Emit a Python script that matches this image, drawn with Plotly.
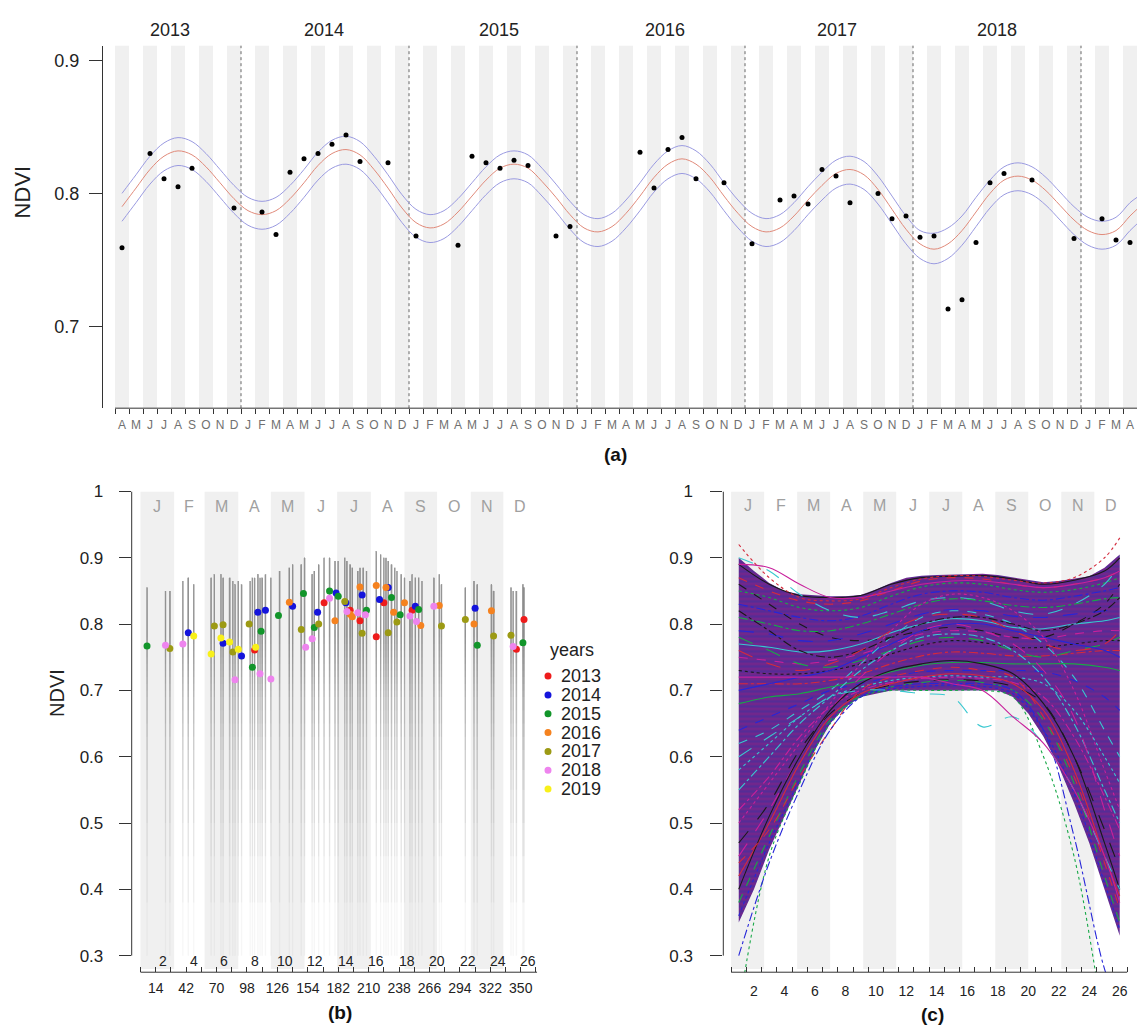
import numpy as np
import plotly.graph_objects as go

W, H = 1137, 1030

# ---------------- panel (a): NDVI time series, month index counted from 1 Apr 2013
month_letters_a = list("AMJJASOND") + list("JFMAMJJASOND") * 5 + list("JFMA")
year_names = ["2013", "2014", "2015", "2016", "2017", "2018"]
year_label_t = [3.9, 14.9, 27.4, 39.3, 51.6, 63.0]
year_breaks = [9, 21, 33, 45, 57, 69]

fit_t = list(np.arange(0.5, 73, 1.0)) + [73.0]
fit_mid = [0.790, 0.804, 0.818, 0.828, 0.832, 0.829, 0.820, 0.808, 0.796, 0.787, 0.784, 0.787,
           0.796, 0.808, 0.821, 0.830, 0.833, 0.829, 0.818, 0.804, 0.789, 0.778, 0.774, 0.777,
           0.786, 0.798, 0.810, 0.819, 0.822, 0.819, 0.809, 0.797, 0.784, 0.774, 0.771, 0.775,
           0.785, 0.798, 0.812, 0.822, 0.826, 0.822, 0.812, 0.798, 0.785, 0.775, 0.771, 0.774,
           0.783, 0.795, 0.806, 0.815, 0.818, 0.814, 0.803, 0.788, 0.773, 0.762, 0.758, 0.762,
           0.772, 0.786, 0.800, 0.810, 0.813, 0.810, 0.802, 0.791, 0.780, 0.772, 0.769, 0.772,
           0.783, 0.788]
fit_hi = [0.800, 0.814, 0.828, 0.838, 0.842, 0.839, 0.830, 0.818, 0.806, 0.797, 0.794, 0.797,
          0.806, 0.818, 0.831, 0.840, 0.843, 0.839, 0.828, 0.814, 0.799, 0.788, 0.784, 0.787,
          0.796, 0.808, 0.820, 0.829, 0.832, 0.829, 0.819, 0.807, 0.794, 0.784, 0.781, 0.785,
          0.795, 0.808, 0.822, 0.832, 0.836, 0.832, 0.822, 0.808, 0.795, 0.785, 0.781, 0.784,
          0.793, 0.805, 0.816, 0.825, 0.828, 0.824, 0.813, 0.798, 0.783, 0.772, 0.770, 0.774,
          0.783, 0.797, 0.810, 0.820, 0.823, 0.820, 0.812, 0.801, 0.790, 0.782, 0.779, 0.782,
          0.793, 0.797]
fit_lo = [0.779, 0.793, 0.807, 0.817, 0.821, 0.818, 0.809, 0.797, 0.785, 0.776, 0.773, 0.776,
          0.785, 0.797, 0.810, 0.819, 0.822, 0.818, 0.807, 0.793, 0.778, 0.767, 0.763, 0.766,
          0.775, 0.787, 0.799, 0.808, 0.811, 0.808, 0.798, 0.786, 0.773, 0.763, 0.760, 0.764,
          0.774, 0.787, 0.801, 0.811, 0.815, 0.811, 0.801, 0.787, 0.774, 0.764, 0.760, 0.763,
          0.772, 0.784, 0.795, 0.804, 0.807, 0.803, 0.792, 0.777, 0.762, 0.751, 0.747, 0.751,
          0.761, 0.775, 0.789, 0.799, 0.802, 0.799, 0.791, 0.780, 0.769, 0.761, 0.758, 0.761,
          0.772, 0.777]

obs_t = [0.5, 2.5, 3.5, 4.5, 5.5, 8.5, 10.5, 11.5, 12.5, 13.5, 14.5, 15.5, 16.5, 17.5, 19.5,
         21.5, 24.5, 25.5, 26.5, 27.5, 28.5, 29.5, 31.5, 32.5, 37.5, 38.5, 39.5, 40.5, 41.5,
         43.5, 45.5, 47.5, 48.5, 49.5, 50.5, 51.5, 52.5, 54.5, 55.5, 56.5, 57.5, 58.5, 59.5,
         60.5, 61.5, 62.5, 63.5, 65.5, 68.5, 70.5, 71.5, 72.5]
obs_ndvi = [0.759, 0.830, 0.811, 0.805, 0.819, 0.789, 0.786, 0.769, 0.816, 0.826, 0.830, 0.837,
            0.844, 0.824, 0.823, 0.768, 0.761, 0.828, 0.823, 0.819, 0.825, 0.821, 0.768, 0.775,
            0.831, 0.804, 0.833, 0.842, 0.811, 0.808, 0.762, 0.795, 0.798, 0.792, 0.818, 0.813,
            0.793, 0.800, 0.781, 0.783, 0.767, 0.768, 0.713, 0.720, 0.763, 0.808, 0.815, 0.810,
            0.766, 0.781, 0.765, 0.763]

# ---------------- panel (b): observations by day of year
years = ["2013", "2014", "2015", "2016", "2017", "2018", "2019"]
year_colors = ["#ee1c1c", "#1414dc", "#12952a", "#f5821f", "#9c9a14", "#ee84ee", "#f8f01a"]
doy_2013 = [105, 169, 193, 202, 217, 224, 250, 346, 353]
ndvi_2013 = [0.761, 0.832, 0.821, 0.805, 0.781, 0.832, 0.821, 0.762, 0.807]
doy_2014 = [44, 76, 93, 108, 115, 140, 163, 180, 189, 204, 220, 228, 253, 308]
ndvi_2014 = [0.787, 0.771, 0.752, 0.818, 0.821, 0.827, 0.818, 0.847, 0.832, 0.844, 0.837, 0.855, 0.827, 0.824]
doy_2015 = [6, 103, 111, 127, 150, 160, 174, 182, 208, 231, 239, 256, 310, 352]
ndvi_2015 = [0.767, 0.735, 0.789, 0.813, 0.846, 0.795, 0.850, 0.842, 0.821, 0.840, 0.814, 0.822, 0.768, 0.772]
doy_2016 = [137, 179, 193, 195, 202, 217, 226, 233, 243, 258, 275, 307, 323]
ndvi_2016 = [0.833, 0.805, 0.815, 0.811, 0.856, 0.858, 0.855, 0.818, 0.832, 0.798, 0.828, 0.800, 0.820]
doy_2017 = [27, 68, 76, 85, 100, 148, 164, 188, 204, 228, 236, 277, 299, 325, 341]
ndvi_2017 = [0.763, 0.797, 0.799, 0.758, 0.800, 0.792, 0.800, 0.834, 0.786, 0.787, 0.803, 0.797, 0.807, 0.782, 0.783]
doy_2018 = [23, 39, 87, 110, 120, 152, 158, 174, 190, 200, 207, 248, 254, 270, 343]
ndvi_2018 = [0.768, 0.770, 0.716, 0.725, 0.717, 0.765, 0.778, 0.839, 0.819, 0.817, 0.814, 0.812, 0.804, 0.827, 0.766]
doy_2019 = [49, 65, 74, 82, 90, 106]
ndvi_2019 = [0.782, 0.755, 0.779, 0.773, 0.762, 0.765]

# grey streaks = spread of all pixels on each acquisition date
streak_doy = [6, 23, 27, 39, 44, 49, 65, 68, 74, 76, 82, 85, 87, 90, 93, 101, 103, 105, 108, 110,
              112, 115, 120, 128, 137, 140, 148, 151, 158, 160, 164, 169, 174, 179, 182, 188, 190,
              193, 195, 200, 202, 205, 208, 217, 221, 224, 226, 228, 231, 234, 236, 240, 243, 248,
              250, 253, 256, 259, 270, 275, 277, 299, 307, 310, 323, 325, 341, 343, 346, 352, 353]
streak_top = [0.855, 0.850, 0.850, 0.865, 0.870, 0.860, 0.870, 0.875, 0.875, 0.870, 0.870, 0.865,
              0.860, 0.865, 0.860, 0.865, 0.870, 0.870, 0.875, 0.870, 0.870, 0.875, 0.870, 0.880,
              0.885, 0.890, 0.890, 0.900, 0.875, 0.880, 0.890, 0.900, 0.900, 0.895, 0.895, 0.900,
              0.895, 0.890, 0.885, 0.880, 0.885, 0.885, 0.880, 0.910, 0.905, 0.900, 0.900, 0.895,
              0.890, 0.885, 0.880, 0.875, 0.870, 0.865, 0.875, 0.870, 0.870, 0.865, 0.870, 0.875,
              0.860, 0.855, 0.865, 0.860, 0.860, 0.850, 0.855, 0.850, 0.850, 0.860, 0.855]
# lower ends of the stacked translucent streak layers (fading towards low NDVI)
streak_lows = [0.30, 0.38, 0.45, 0.50, 0.55, 0.58, 0.61, 0.63, 0.65, 0.67, 0.69, 0.70, 0.71, 0.72,
               0.73, 0.74, 0.75, 0.76, 0.77, 0.78]

month_letters = list("JFMAMJJASOND")
month_start_doy = [0, 31, 59, 90, 120, 151, 181, 212, 243, 273, 304, 334, 365]

# ---------------- panel (c): per-pixel profiles over 26 two-week periods
env_u = list(range(1, 27))
env_upper = [0.900, 0.880, 0.862, 0.850, 0.845, 0.843, 0.842, 0.842, 0.844, 0.852, 0.862, 0.870, 0.873,
             0.874, 0.875, 0.876, 0.876, 0.874, 0.870, 0.866, 0.863, 0.865, 0.868, 0.872, 0.885, 0.905]
env_lower = [0.350, 0.400, 0.460, 0.510, 0.560, 0.610, 0.650, 0.675, 0.690, 0.695, 0.700, 0.700, 0.700,
             0.700, 0.700, 0.700, 0.700, 0.700, 0.690, 0.665, 0.630, 0.585, 0.530, 0.470, 0.400, 0.330]

prof_u = [1, 3, 5, 7, 9, 11, 13, 15, 17, 19, 21, 23, 25, 26]
prof_high = [
    [0.89, 0.86, 0.843, 0.84, 0.843, 0.86, 0.87, 0.872, 0.873, 0.868, 0.86, 0.866, 0.88, 0.90],
    [0.87, 0.85, 0.835, 0.83, 0.835, 0.85, 0.865, 0.87, 0.868, 0.86, 0.855, 0.86, 0.87, 0.88],
    [0.85, 0.84, 0.825, 0.82, 0.825, 0.842, 0.856, 0.862, 0.86, 0.852, 0.848, 0.852, 0.862, 0.87],
    [0.83, 0.82, 0.81, 0.805, 0.812, 0.83, 0.845, 0.85, 0.848, 0.84, 0.836, 0.842, 0.85, 0.855],
    [0.90, 0.88, 0.845, 0.82, 0.81, 0.82, 0.835, 0.84, 0.835, 0.82, 0.815, 0.83, 0.86, 0.89],
    [0.89, 0.885, 0.86, 0.84, 0.84, 0.85, 0.86, 0.865, 0.865, 0.86, 0.855, 0.86, 0.87, 0.88],
    [0.86, 0.83, 0.80, 0.78, 0.775, 0.78, 0.79, 0.795, 0.79, 0.78, 0.78, 0.80, 0.83, 0.86],
    [0.92, 0.87, 0.84, 0.835, 0.838, 0.855, 0.868, 0.873, 0.872, 0.866, 0.862, 0.87, 0.90, 0.93],
]
prof_mid = [
    [0.81, 0.80, 0.79, 0.79, 0.80, 0.815, 0.83, 0.838, 0.835, 0.828, 0.825, 0.83, 0.838, 0.84],
    [0.79, 0.785, 0.775, 0.775, 0.785, 0.80, 0.815, 0.822, 0.82, 0.812, 0.81, 0.815, 0.82, 0.825],
    [0.77, 0.765, 0.758, 0.76, 0.77, 0.787, 0.80, 0.808, 0.805, 0.795, 0.793, 0.80, 0.805, 0.81],
    [0.75, 0.745, 0.74, 0.745, 0.755, 0.77, 0.785, 0.79, 0.788, 0.78, 0.778, 0.785, 0.79, 0.79],
    [0.73, 0.725, 0.725, 0.73, 0.74, 0.755, 0.768, 0.775, 0.772, 0.765, 0.765, 0.77, 0.775, 0.775],
    [0.71, 0.71, 0.71, 0.715, 0.725, 0.74, 0.752, 0.758, 0.756, 0.752, 0.752, 0.756, 0.76, 0.76],
    [0.78, 0.76, 0.74, 0.735, 0.745, 0.76, 0.775, 0.78, 0.775, 0.76, 0.75, 0.76, 0.77, 0.78],
    [0.70, 0.71, 0.72, 0.73, 0.75, 0.77, 0.79, 0.80, 0.80, 0.79, 0.78, 0.77, 0.76, 0.75],
    [0.62, 0.64, 0.67, 0.70, 0.74, 0.78, 0.81, 0.82, 0.815, 0.80, 0.77, 0.72, 0.64, 0.60],
    [0.50, 0.56, 0.62, 0.68, 0.74, 0.79, 0.83, 0.845, 0.84, 0.82, 0.78, 0.70, 0.58, 0.52],
    [0.82, 0.79, 0.76, 0.75, 0.76, 0.78, 0.80, 0.81, 0.81, 0.80, 0.79, 0.80, 0.82, 0.84],
    [0.76, 0.74, 0.73, 0.74, 0.76, 0.79, 0.81, 0.815, 0.81, 0.79, 0.77, 0.76, 0.77, 0.79],
]
prof_low = [
    [0.68, 0.69, 0.695, 0.705, 0.715, 0.728, 0.738, 0.742, 0.742, 0.74, 0.74, 0.74, 0.735, 0.73],
    [0.64, 0.66, 0.68, 0.70, 0.71, 0.72, 0.728, 0.73, 0.73, 0.73, 0.728, 0.715, 0.69, 0.67],
    [0.58, 0.62, 0.66, 0.69, 0.705, 0.715, 0.72, 0.722, 0.72, 0.72, 0.71, 0.67, 0.60, 0.56],
    [0.52, 0.57, 0.63, 0.675, 0.70, 0.712, 0.718, 0.72, 0.718, 0.712, 0.69, 0.63, 0.54, 0.49],
    [0.47, 0.53, 0.61, 0.665, 0.695, 0.708, 0.714, 0.716, 0.714, 0.706, 0.68, 0.60, 0.49, 0.43],
    [0.42, 0.50, 0.59, 0.66, 0.695, 0.71, 0.72, 0.725, 0.722, 0.71, 0.67, 0.58, 0.45, 0.39],
    [0.38, 0.48, 0.575, 0.655, 0.692, 0.705, 0.712, 0.715, 0.712, 0.70, 0.655, 0.56, 0.42, 0.35],
    [0.36, 0.47, 0.565, 0.652, 0.69, 0.702, 0.706, 0.708, 0.706, 0.695, 0.64, 0.545, 0.41, 0.34],
    [0.55, 0.60, 0.65, 0.69, 0.73, 0.76, 0.78, 0.785, 0.78, 0.76, 0.72, 0.65, 0.55, 0.50],
    [0.45, 0.52, 0.60, 0.67, 0.72, 0.76, 0.79, 0.80, 0.79, 0.77, 0.73, 0.66, 0.52, 0.45],
    [0.40, 0.51, 0.60, 0.67, 0.71, 0.73, 0.74, 0.745, 0.74, 0.725, 0.68, 0.60, 0.47, 0.40],
    [0.44, 0.49, 0.57, 0.64, 0.70, 0.72, 0.73, 0.735, 0.73, 0.72, 0.66, 0.57, 0.44, 0.37],
]
prof_odd = [
    [0.22, 0.45, 0.56, 0.65, 0.69, 0.70, 0.70, 0.70, 0.70, 0.69, 0.60, 0.45, 0.20, 0.10],
    [0.30, 0.44, 0.55, 0.64, 0.69, 0.705, 0.71, 0.71, 0.71, 0.70, 0.64, 0.48, 0.28, 0.22],
    [0.60, 0.63, 0.66, 0.69, 0.70, 0.70, 0.695, 0.69, 0.645, 0.66, 0.62, 0.55, 0.45, 0.40],
    [0.72, 0.72, 0.72, 0.72, 0.72, 0.72, 0.72, 0.71, 0.70, 0.66, 0.62, 0.55, 0.45, 0.38],
]
r_palette = ["#1a1a1a", "#d42a3c", "#18a848", "#2626d8", "#38c8d0", "#c8209c"]
r_dashes = ["solid", "dash", "dot", "dashdot", "longdash"]

fig = go.Figure()

# (a) fitted model with confidence band, then observations
for ys, col in [(fit_hi, "#9a9ae0"), (fit_lo, "#9a9ae0"), (fit_mid, "#e08a7a")]:
    fig.add_trace(go.Scatter(x=fit_t, y=ys, mode="lines", line=dict(color=col, width=1, shape="spline"),
                             xaxis="x", yaxis="y", hoverinfo="skip"))
fig.add_trace(go.Scatter(x=obs_t, y=obs_ndvi, mode="markers", marker=dict(color="black", size=5),
                         xaxis="x", yaxis="y"))

# (b) grey streaks, many faint stacked layers -> smooth fade towards low values
for lo in streak_lows:
    xs, ys = [], []
    for d, top in zip(streak_doy, streak_top):
        xs += [d, d, None]
        ys += [lo, top, None]
    fig.add_trace(go.Scatter(x=xs, y=ys, mode="lines", line=dict(color="rgba(115,115,115,0.065)", width=1.3),
                             xaxis="x2", yaxis="y2", hoverinfo="skip"))
doys = [doy_2013, doy_2014, doy_2015, doy_2016, doy_2017, doy_2018, doy_2019]
ndvis = [ndvi_2013, ndvi_2014, ndvi_2015, ndvi_2016, ndvi_2017, ndvi_2018, ndvi_2019]
for name, col, d, v in zip(years, year_colors, doys, ndvis):
    fig.add_trace(go.Scatter(x=d, y=v, mode="markers", name=name, marker=dict(color=col, size=7),
                             xaxis="x2", yaxis="y2"))

# (c) dense envelope (hatched for a streaky look), then individual profiles on top
fig.add_trace(go.Scatter(x=env_u + env_u[::-1], y=env_upper + env_lower[::-1], fill="toself",
                         fillcolor="rgb(100,42,140)",
                         fillpattern=dict(shape="-", bgcolor="rgb(86,44,150)", fgcolor="rgb(150,32,128)",
                                          size=5, solidity=0.45),
                         line=dict(width=0), mode="lines", xaxis="x3", yaxis="y3", hoverinfo="skip"))
i = 0
for grp in [prof_high, prof_mid, prof_low, prof_odd]:
    for p in grp:
        fig.add_trace(go.Scatter(x=prof_u, y=p, mode="lines",
                                 line=dict(color=r_palette[i % 6], width=1.1, dash=r_dashes[i % 5], shape="spline"),
                                 xaxis="x3", yaxis="y3", hoverinfo="skip"))
        i += 1

# ---------------- decorations
shapes = []
band = "#f0f0f0"
axc = "#333333"
for k in range(0, 73, 2):
    shapes.append(dict(type="rect", xref="x", yref="y domain", x0=k, x1=k + 1, y0=0, y1=1,
                       fillcolor=band, line_width=0, layer="below"))
for b in year_breaks:
    shapes.append(dict(type="line", xref="x", yref="y domain", x0=b, x1=b, y0=0, y1=1,
                       line=dict(color="#666", width=1, dash="dot"), layer="below"))
shapes.append(dict(type="line", xref="x", yref="y domain", x0=0, x1=73, y0=0, y1=0, line=dict(color=axc, width=1)))

for m in range(0, 12, 2):
    shapes.append(dict(type="rect", xref="x2", yref="y2", x0=month_start_doy[m], x1=month_start_doy[m + 1],
                       y0=0.28, y1=1.0, fillcolor=band, line_width=0, layer="below"))
    u0 = 0.5 + m * 26 / 12
    shapes.append(dict(type="rect", xref="x3", yref="y3", x0=u0, x1=u0 + 26 / 12,
                       y0=0.28, y1=1.0, fillcolor=band, line_width=0, layer="below"))
shapes.append(dict(type="line", xref="x2", yref="y2 domain", x0=0, x1=365, y0=0, y1=0, line=dict(color=axc, width=1)))
shapes.append(dict(type="line", xref="x2 domain", yref="y2", x0=0, x1=0, y0=0.3, y1=1.0, line=dict(color=axc, width=1)))
shapes.append(dict(type="line", xref="x3", yref="y3 domain", x0=0.5, x1=26.5, y0=0, y1=0, line=dict(color=axc, width=1)))
shapes.append(dict(type="line", xref="x3 domain", yref="y3", x0=0, x1=0, y0=0.3, y1=1.0, line=dict(color=axc, width=1)))


def note(x, y, text, size, color="#222", xref="paper", yref="paper", **kw):
    d = dict(x=x, y=y, xref=xref, yref=yref, text=text, showarrow=False, xanchor="center",
             yanchor="middle", font=dict(size=size, color=color))
    d.update(kw)
    return d


annots = []
for name, t in zip(year_names, year_label_t):
    annots.append(note(t, 1 - 21 / H, name, 18, xref="x"))
annots.append(note(22 / W, 1 - 185 / H, "NDVI", 22, textangle=-90))
annots.append(note(57 / W, 1 - 690 / H, "NDVI", 20, textangle=-90))
for txt, px, py in [("(a)", 615, 449), ("(b)", 340, 1012), ("(c)", 932, 1014)]:
    annots.append(note(px / W, 1 - py / H, "<b>%s</b>" % txt, 19, color="#111"))
for m, lt in enumerate(month_letters):
    annots.append(note((month_start_doy[m] + month_start_doy[m + 1]) / 2, 0.978, lt, 16, "#a0a0a0",
                       xref="x2", yref="y2"))
    annots.append(note(0.5 + (m + 0.5) * 26 / 12, 0.979, lt, 16, "#a0a0a0", xref="x3", yref="y3"))
for k in range(2, 27, 2):
    annots.append(note(14 * k - 7, 1 - 960 / H, str(k), 14, xref="x2"))
# legend of panel (b)
annots.append(note(572 / W, 1 - 647 / H, "years", 18))
for j, (name, col) in enumerate(zip(years, year_colors)):
    py = 673 + 19 * j
    annots.append(note(559 / W, 1 - py / H, name, 18, xanchor="left"))
    shapes.append(dict(type="circle", xref="paper", yref="paper", xsizemode="pixel", ysizemode="pixel",
                       xanchor=548 / W, yanchor=1 - py / H, x0=-3.5, x1=3.5, y0=-3.5, y1=3.5,
                       fillcolor=col, line_width=0))

mid_a = [k + 0.5 for k in range(73)]
yb = [1 - 971.7 / H, 1 - 486.7 / H]
yticks = [0.3, 0.4, 0.5, 0.6, 0.7, 0.8, 0.9, 1.0]
ytext = ["0.3", "0.4", "0.5", "0.6", "0.7", "0.8", "0.9", "1"]

fig.update_layout(
    width=W, height=H, margin=dict(l=0, r=0, t=0, b=0),
    paper_bgcolor="white", plot_bgcolor="white", showlegend=False, hovermode=False,
    font=dict(family="Liberation Sans, Arial, sans-serif", color="#222"),
    xaxis=dict(domain=[103 / W, 1.0], range=[-0.857, 73.0], anchor="y", showgrid=False, zeroline=False,
               tickmode="array", tickvals=mid_a, ticktext=month_letters_a, ticks="",
               tickfont=dict(size=12, color="#707070"), ticklabelstandoff=8,
               minor=dict(tickmode="array", tickvals=list(range(74)), ticks="outside", ticklen=5,
                          tickcolor=axc, showgrid=False)),
    yaxis=dict(domain=[1 - 402.7 / H, 1 - 37 / H], range=[0.6383, 0.9112], anchor="x", showgrid=False,
               zeroline=False, showline=True, linecolor=axc, tickmode="array", tickvals=[0.7, 0.8, 0.9],
               ticktext=["0.7", "0.8", "0.9"], ticks="outside", ticklen=13, tickcolor=axc,
               tickfont=dict(size=18, color="#222"), ticklabelstandoff=6),
    xaxis2=dict(domain=[131.7 / W, 546.5 / W], range=[-8.1, 373.7], anchor="y2", showgrid=False,
                zeroline=False, tickmode="array", tickvals=list(range(14, 351, 28)),
                ticktext=[str(v) for v in range(14, 351, 28)], ticks="inside", ticklen=5, tickcolor=axc,
                tickfont=dict(size=14, color="#222"), ticklabelstandoff=6,
                minor=dict(tickmode="array", tickvals=list(range(0, 365, 28)), ticks="inside", ticklen=5,
                           tickcolor=axc, showgrid=False)),
    yaxis2=dict(domain=yb, range=[0.275, 1.0], anchor="x2", showgrid=False, zeroline=False,
                tickmode="array", tickvals=yticks, ticktext=ytext, ticks="outside", ticklen=12,
                tickcolor=axc, tickfont=dict(size=17, color="#222"), ticklabelstandoff=12),
    xaxis3=dict(domain=[723.3 / W, 1127.5 / W], range=[-0.013, 26.51], anchor="y3", showgrid=False,
                zeroline=False, tickmode="array", tickvals=list(range(2, 27, 2)),
                ticktext=[str(v) for v in range(2, 27, 2)], ticks="",
                tickfont=dict(size=14, color="#222"), ticklabelstandoff=9,
                minor=dict(tickmode="array", tickvals=[k + 0.5 for k in range(27)], ticks="inside",
                           ticklen=5, tickcolor=axc, showgrid=False)),
    yaxis3=dict(domain=yb, range=[0.275, 1.0], anchor="x3", showgrid=False, zeroline=False,
                tickmode="array", tickvals=yticks, ticktext=ytext, ticks="outside", ticklen=12,
                tickcolor=axc, tickfont=dict(size=17, color="#222"), ticklabelstandoff=14),
    shapes=shapes, annotations=annots,
)

# page has a default 8px body margin; drop it so the figure fills the window exactly
fig.write_html("out.html", config={"displayModeBar": False},
               post_script="document.body.style.margin='0';document.body.style.overflow='hidden';")
